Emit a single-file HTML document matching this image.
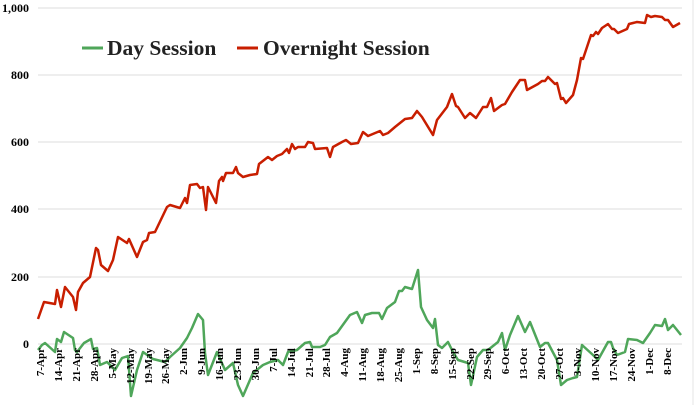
<!DOCTYPE html>
<html><head><meta charset="utf-8"><style>
html,body{margin:0;padding:0;background:#fff;}
svg{display:block;font-family:"Liberation Serif",serif;font-weight:bold;}
</style></head><body>
<svg width="696" height="405" viewBox="0 0 696 405" xmlns="http://www.w3.org/2000/svg">
<rect width="696" height="405" fill="#fff"/>
<line x1="693" y1="0" x2="693" y2="405" stroke="#e4e4e4" stroke-width="1"/>
<g stroke="#dcdcdc" stroke-width="1">
<line x1="38" y1="8" x2="682" y2="8"/>
<line x1="38" y1="75" x2="682" y2="75"/>
<line x1="38" y1="142" x2="682" y2="142"/>
<line x1="38" y1="209" x2="682" y2="209"/>
<line x1="38" y1="277" x2="682" y2="277"/>
<line x1="38" y1="344" x2="682" y2="344"/>
</g>
<g font-size="12" text-anchor="end" fill="#000">
<text x="29" y="12">1,000</text>
<text x="29" y="79">800</text>
<text x="29" y="146">600</text>
<text x="29" y="213">400</text>
<text x="29" y="281">200</text>
<text x="29" y="348">0</text>
</g>
<polyline fill="none" stroke="#c81e00" stroke-width="2.5" stroke-linejoin="round" points="38,319 44,302 55,304 57,290 61,307 65,287 73,297 76,310 78,292 83,283 90,277 96,248 98,250 101,265 108,271 113,260 118,237 127,243 129,239 137,257 143,242 147,240 149,233 155,232 167,207 170,205 180,208 185,198 187,203 190,185 197,184 200,188 203,187 206,210 208,187 216,203 219,181 222,177 223,181 226,173 233,173 236,167 238,173 243,177 250,175 257,174 259,164 268,157 272,160 277,156 282,154 287,149 289,153 292,144 295,149 298,147 305,147 308,142 313,143 315,149 327,148 330,157 333,147 342,142 346,140 351,144 358,143 363,132 368,136 380,131 383,135 388,133 395,127 405,119 412,118 417,111 422,117 433,135 437,120 447,107 452,94 456,106 458,107 465,118 470,113 476,118 483,107 487,107 491,98 494,111 502,105 505,104 512,92 520,80 525,80 527,90 538,84 542,81 545,81 548,77 555,84 557,83 561,99 563,98 566,103 573,95 577,80 581,58 583,59 591,35 593,36 596,32 598,34 602,28 608,24 612,29 614,29 618,33 627,29 629,24 633,23 637,22 645,23 647,15 651,17 655,16 662,17 665,20 668,20 673,27 680,23"/>
<polyline fill="none" stroke="#4fa65a" stroke-width="2.5" stroke-linejoin="round" points="38,350 42,345 45,343 55,352 57,339 61,342 64,332 73,338 75,350 77,352 84,343 91,339 93,349 97,348 100,365 107,362 115,370 122,358 128,356 131,396 137,370 143,352 150,357 153,359 165,362 170,357 180,348 187,338 192,328 198,314 203,320 205,353 208,375 217,352 225,370 233,363 238,385 243,396 253,373 263,365 270,362 278,360 283,365 288,352 297,350 305,343 310,342 312,347 320,347 325,345 330,337 337,333 350,315 357,312 362,323 365,315 372,313 379,313 382,319 387,308 395,302 399,291 402,291 405,287 412,289 418,270 421,307 427,320 433,328 435,319 438,345 442,348 448,342 453,352 458,360 468,363 471,385 477,357 483,350 488,350 498,342 502,333 505,350 510,335 518,316 525,332 530,322 540,347 545,343 548,343 557,360 561,385 567,380 573,378 577,377 582,345 593,355 598,360 608,342 611,342 613,348 617,355 625,352 628,339 637,340 643,343 650,333 655,325 662,326 665,319 668,330 673,325 681,335"/>
<g font-size="11" text-anchor="end" fill="#000">
<text transform="translate(44,348) rotate(-90)">7-Apr</text>
<text transform="translate(62,348) rotate(-90)">14-Apr</text>
<text transform="translate(80,348) rotate(-90)">21-Apr</text>
<text transform="translate(98,348) rotate(-90)">28-Apr</text>
<text transform="translate(116,348) rotate(-90)">5-May</text>
<text transform="translate(134,348) rotate(-90)">12-May</text>
<text transform="translate(152,348) rotate(-90)">19-May</text>
<text transform="translate(169,348) rotate(-90)">26-May</text>
<text transform="translate(187,348) rotate(-90)">2-Jun</text>
<text transform="translate(205,348) rotate(-90)">9-Jun</text>
<text transform="translate(223,348) rotate(-90)">16-Jun</text>
<text transform="translate(241,348) rotate(-90)">23-Jun</text>
<text transform="translate(259,348) rotate(-90)">30-Jun</text>
<text transform="translate(277,348) rotate(-90)">7-Jul</text>
<text transform="translate(295,348) rotate(-90)">14-Jul</text>
<text transform="translate(313,348) rotate(-90)">21-Jul</text>
<text transform="translate(330,348) rotate(-90)">28-Jul</text>
<text transform="translate(348,348) rotate(-90)">4-Aug</text>
<text transform="translate(366,348) rotate(-90)">11-Aug</text>
<text transform="translate(384,348) rotate(-90)">18-Aug</text>
<text transform="translate(402,348) rotate(-90)">25-Aug</text>
<text transform="translate(420,348) rotate(-90)">1-Sep</text>
<text transform="translate(438,348) rotate(-90)">8-Sep</text>
<text transform="translate(456,348) rotate(-90)">15-Sep</text>
<text transform="translate(474,348) rotate(-90)">22-Sep</text>
<text transform="translate(491,348) rotate(-90)">29-Sep</text>
<text transform="translate(509,348) rotate(-90)">6-Oct</text>
<text transform="translate(527,348) rotate(-90)">13-Oct</text>
<text transform="translate(545,348) rotate(-90)">20-Oct</text>
<text transform="translate(563,348) rotate(-90)">27-Oct</text>
<text transform="translate(581,348) rotate(-90)">3-Nov</text>
<text transform="translate(599,348) rotate(-90)">10-Nov</text>
<text transform="translate(617,348) rotate(-90)">17-Nov</text>
<text transform="translate(635,348) rotate(-90)">24-Nov</text>
<text transform="translate(653,348) rotate(-90)">1-Dec</text>
<text transform="translate(671,348) rotate(-90)">8-Dec</text>
</g>
<line x1="82" y1="48" x2="103" y2="48" stroke="#4fa65a" stroke-width="3"/>
<text x="107" y="55" font-size="21.5" fill="#222">Day Session</text>
<line x1="237" y1="48" x2="258" y2="48" stroke="#c81e00" stroke-width="3"/>
<text x="263" y="55" font-size="21.5" fill="#222">Overnight Session</text>
</svg>
</body></html>
